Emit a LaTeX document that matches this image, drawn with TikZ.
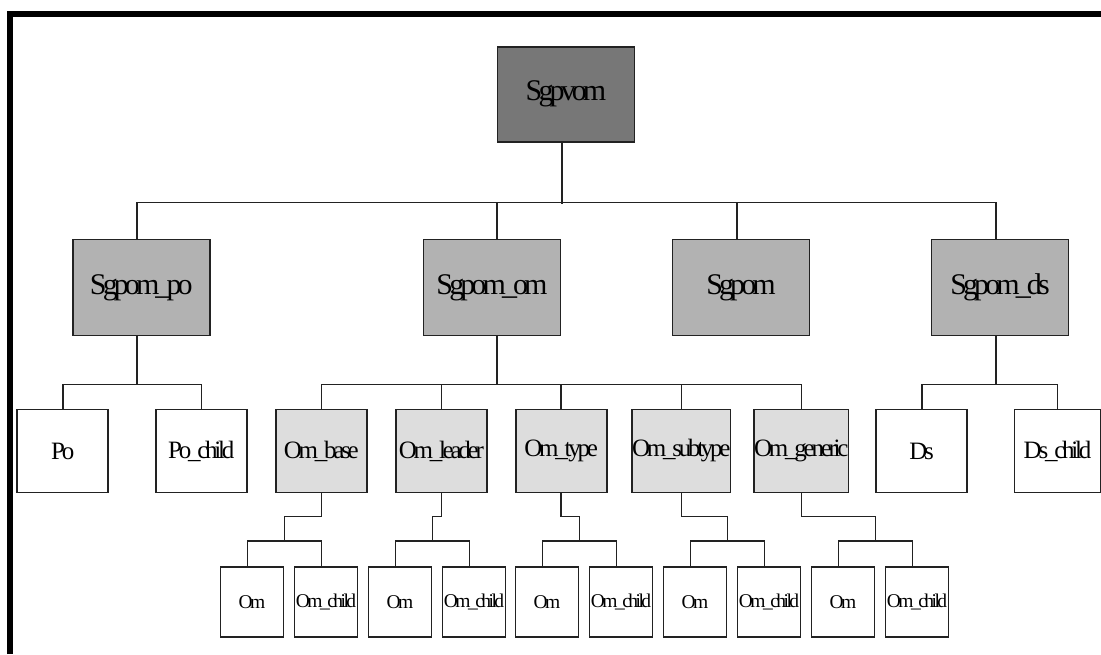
\documentclass[tikz,border=0pt]{standalone}
\usepackage{fontspec}
\setmainfont{Liberation Serif}[LetterSpace=-13]
\usetikzlibrary{calc}
\definecolor{topgray}{HTML}{777777}
\definecolor{midgray}{HTML}{B2B2B2}
\definecolor{omgray}{HTML}{DDDDDD}
\definecolor{linegray}{HTML}{222222}
\begin{document}
\begin{tikzpicture}[x=1pt,y=-1pt,
	box/.style={draw=linegray,line width=1.8pt,inner sep=0pt,text=black},
	big/.style={box,minimum width=137pt,minimum height=96pt,font=\fontsize{30}{30}\selectfont},
	mid/.style={box,minimum width=91pt,minimum height=83pt,font=\fontsize{25}{25}\selectfont},
	small/.style={box,minimum width=63pt,minimum height=70pt,font=\fontsize{19.5}{19.5}\selectfont},
	conn/.style={draw=linegray,line width=1.6pt}]
	\useasboundingbox (0,0) rectangle (1101,654);
	\draw[line width=6.5pt] (10,654) -- (10,14) -- (1101,14);
	
	\node[big,fill=topgray,minimum height=95pt] (sgpvom) at (566,94.2) {Sgpvom};
	\node[big,fill=midgray] (po) at (141.3,287.4) {Sgpom\_po};
	\node[big,fill=midgray] (om) at (492,287.4) {Sgpom\_om};
	\node[big,fill=midgray] (sg) at (741,287.4) {Sgpom};
	\node[big,fill=midgray] (ds) at (1000,287.4) {Sgpom\_ds};
	
	\node[mid] (po1) at (62.8,451) {Po};
	\node[mid] (po2) at (201.3,451) {Po\_child};
	\node[mid,fill=omgray] (base) at (321.3,451) {Om\_base};
	\node[mid,fill=omgray] (leader) at (441.3,451) {Om\_leader};
	\node[mid,fill=omgray] (type) at (561.2,451) {Om\_type};
	\node[mid,fill=omgray] (subtype) at (681.3,451) {Om\_subtype};
	\node[mid,fill=omgray] (generic) at (801.3,451) {Om\_generic};
	\node[mid] (ds1) at (921.7,451) {Ds};
	\node[mid,minimum width=86pt] (ds2) at (1057.5,451) {Ds\_child};
	
	% top level
	\coordinate (bus1) at (0,203.3);
	\coordinate (bus2) at (0,384.3);
	\draw[conn] ($(sgpvom.south)+(-4,0)$) -- +(0,61.6);
	\draw[conn] ($(po.north)+(-4.6,0)$) |- ($(ds.north)+(-4.3,-36.1)$) -- ($(ds.north)+(-4.3,0)$);
	\draw[conn] ($(om.north)+(5,0)$) -- +(0,-36.1);
	\draw[conn] ($(sg.north)+(-4,0)$) -- +(0,-36.1);
	
	% second level
	\draw[conn] ($(po.south)+(-4.6,0)$) -- +(0,48.9);
	\draw[conn] (po1.north) |- (po2.north |- bus2) -- (po2.north);
	\draw[conn] ($(om.south)+(5,0)$) -- +(0,48.9);
	\draw[conn] (base.north) |- (generic.north |- bus2) -- (generic.north);
	\foreach \n in {leader,type,subtype} \draw[conn] (\n.north) -- (\n.north |- bus2);
	\draw[conn] ($(ds.south)+(-4.3,0)$) -- +(0,48.9);
	\draw[conn] (ds1.north) |- (ds2.north |- bus2) -- (ds2.north);
	
	% third level
	\foreach \p/\lx/\rx in {base/252/326,leader/400/474,type/547/621,subtype/695/769,generic/843/917}{
		\node[small] (\p1) at (\lx,601.7) {Om};
		\node[small] (\p2) at (\rx,601.7) {Om\_child};
		\coordinate (\p-bus) at ($(\p1.north)!.5!(\p2.north)+(-4.4,-25)$);
		\draw[conn] (\p.south) |- ($(\p-bus)+(0,-24.4)$) -- (\p-bus);
		\draw[conn] ($(\p1.north)+(-4.4,0)$) |- (\p-bus) -| ($(\p2.north)+(-4.4,0)$);
	}
\end{tikzpicture}
\end{document}
